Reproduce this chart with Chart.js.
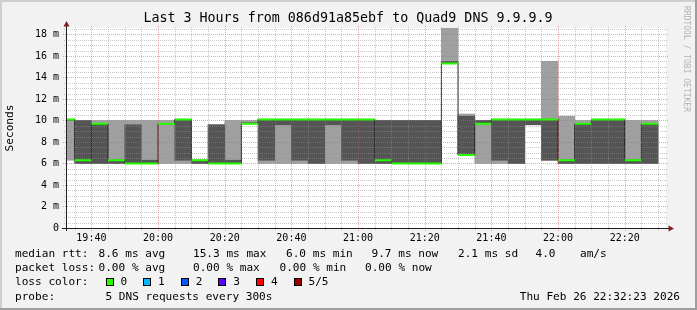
<!DOCTYPE html>
<html>
<head>
<meta charset="utf-8">
<script src="https://cdn.jsdelivr.net/npm/chart.js@4.4.1/dist/chart.umd.min.js"></script>
<style>
  html, body { margin: 0; padding: 0; background: #f2f2f2; }
  canvas { display: block; }
</style>
</head>
<body>
<canvas id="smoke" width="697" height="310"></canvas>
<script>
// 5 minute rrd steps, labelled by the end of each step
const stepEnds = ['19:35','19:40','19:45','19:50','19:55','20:00','20:05','20:10','20:15','20:20','20:25','20:30',
                  '20:35','20:40','20:45','20:50','20:55','21:00','21:05','21:10','21:15','21:20','21:25','21:30',
                  '21:35','21:40','21:45','21:50','21:55','22:00','22:05','22:10','22:15','22:20','22:25','22:30'];
// sorted pings per step (ms): outer pair, inner pair, median
const pingMin = [6.3,6.0,6.0,6.0,6.0,6.0,6.0,6.0,6.0,6.0,6.0,9.7,6.0,6.0,6.0,6.0,6.0,6.0,6.0,6.0,6.0,6.0,6.0,15.3,6.8,6.0,6.0,6.0,9.6,6.3,6.0,6.0,6.0,6.0,6.0,6.0];
const pingLo  = [10.0,6.0,6.0,6.0,6.0,6.0,9.7,6.3,6.0,6.0,6.0,9.7,6.3,9.6,6.3,6.0,9.6,6.3,6.0,6.0,6.0,6.0,6.0,15.3,6.8,9.7,6.3,6.0,9.6,6.3,6.0,6.0,6.0,6.0,6.0,6.0];
const median  = [10.1,6.3,9.7,6.3,6.0,6.0,9.7,10.1,6.3,6.0,6.0,9.7,10.1,10.1,10.1,10.1,10.1,10.1,10.1,6.3,6.0,6.0,6.0,15.3,6.8,9.7,10.1,10.1,10.1,10.1,6.3,9.7,10.1,10.1,6.3,9.7];
const pingHi  = [10.1,10.0,9.7,6.3,9.6,6.3,9.7,10.1,6.3,9.6,6.3,9.8,10.1,10.1,10.1,10.1,10.1,10.1,10.1,10.0,10.0,10.0,10.0,15.5,10.4,10.0,10.1,10.1,10.1,10.1,6.3,9.7,10.1,10.1,6.3,9.7];
const pingMax = [10.1,10.0,10.0,10.0,10.0,10.0,10.0,10.1,6.3,9.6,10.0,10.0,10.1,10.1,10.1,10.1,10.1,10.1,10.1,10.0,10.0,10.0,10.0,19.0,10.6,10.0,10.1,10.1,10.1,15.5,10.4,10.0,10.1,10.1,10.0,10.0];

const xTickLabels = ['19:40','20:00','20:20','20:40','21:00','21:20','21:40','22:00','22:20'];
const yTickValues = [0,2,4,6,8,10,12,14,16,18];
const graphEnd = '22:32:23';
const yMax = 18.6;

const titleText = 'Last 3 Hours from 086d91a85ebf to Quad9 DNS 9.9.9.9';
const rttLegend = ['8.6 ms avg','15.3 ms max','6.0 ms min','9.7 ms now','2.1 ms sd','4.0','am/s'];
const lossLegend = ['0.00 % avg','0.00 % max','0.00 % min','0.00 % now'];
const lossLabels = ['0','1','2','3','4','5/5'];
const lossColors = ['#26ff00','#00b8ff','#0059ff','#5e00ff','#ff0000','#a00000'];
const probeText = '5 DNS requests every 300s';
const stampText = 'Thu Feb 26 22:32:23 2026';

const MONO = '"DejaVu Sans Mono", monospace';
const STEP = 5;
const toMin = s => { const p = s.split(':').map(Number); return p[0] * 60 + p[1] + (p[2] || 0) / 60; };
const fmtMin = v => { const h = Math.floor(v / 60), m = Math.round(v - h * 60); return h + ':' + String(m).padStart(2, '0'); };
const xEnd = toMin(graphEnd);
const xStart = xEnd - 180;

const lightBars = stepEnds.map((t, i) => ({x: toMin(t) - STEP / 2, y: [pingMin[i], pingMax[i]]}));
const darkBars = stepEnds.map((t, i) => ({x: toMin(t) - STEP / 2, y: [pingLo[i], pingHi[i]]}));
const medianSteps = stepEnds.map((t, i) => ({x: toMin(t) - STEP, y: median[i]}));
medianSteps.push({x: toMin(stepEnds[stepEnds.length - 1]), y: median[median.length - 1]});
const greenSegs = [];
stepEnds.forEach((t, i) => {
  const e = toMin(t);
  greenSegs.push({x: e - STEP, y: median[i]}, {x: e, y: median[i]}, {x: e, y: null});
});

// rrdtool look: background, shades, grid over the smoke, axes with arrows
const rrdFrame = {
  id: 'rrdFrame',
  beforeDraw(chart) {
    const {ctx, chartArea: a, width, height} = chart;
    ctx.save();
    ctx.fillStyle = '#f2f2f2';
    ctx.fillRect(0, 0, width, height);
    ctx.fillStyle = '#cfcfcf';
    ctx.fillRect(0, 0, width, 2);
    ctx.fillRect(0, 0, 2, height);
    ctx.fillStyle = '#9e9e9e';
    ctx.fillRect(0, height - 2, width, 2);
    ctx.fillRect(width - 2, 0, 2, height);
    ctx.fillStyle = '#ffffff';
    ctx.fillRect(a.left, a.top, a.right - a.left, a.bottom - a.top);
    ctx.restore();
  },
  afterDatasetsDraw(chart) {
    const {ctx, chartArea: a, scales: {x, y}} = chart;
    const minorCol = 'rgba(143,143,143,0.5)';
    const majorCol = 'rgba(222,79,79,0.5)';
    ctx.save();
    ctx.lineWidth = 1;
    ctx.setLineDash([1, 1]);
    const hLine = (v, ext, col) => {
      const py = Math.round(y.getPixelForValue(v)) + 0.5;
      ctx.strokeStyle = col;
      ctx.beginPath(); ctx.moveTo(a.left - ext, py); ctx.lineTo(a.right + ext, py); ctx.stroke();
    };
    const vLine = (v, ext, col) => {
      const px = Math.round(x.getPixelForValue(v)) + 0.5;
      ctx.strokeStyle = col;
      ctx.beginPath(); ctx.moveTo(px, a.bottom + ext); ctx.lineTo(px, a.top - ext); ctx.stroke();
    };
    for (let k = 1; k * 0.5 <= yMax; k++) {
      if (k % 4 !== 0) hLine(k * 0.5, 2, minorCol);
    }
    for (let k = 1; k * 2 <= yMax; k++) hLine(k * 2, 3, majorCol);
    for (let v = Math.ceil(xStart / STEP) * STEP; v <= xEnd; v += STEP) {
      if (v % 20 !== 0) vLine(v, 2, minorCol);
    }
    for (let v = Math.ceil(xStart / 20) * 20; v <= xEnd; v += 20) vLine(v, 3, majorCol);

    ctx.setLineDash([]);
    ctx.strokeStyle = '#1f1f1f';
    ctx.beginPath();
    ctx.moveTo(a.left - 4, a.bottom + 0.5); ctx.lineTo(a.right + 3, a.bottom + 0.5);
    ctx.moveTo(a.left + 0.5, a.bottom + 3); ctx.lineTo(a.left + 0.5, a.top - 2);
    ctx.stroke();
    ctx.fillStyle = '#801f1f';
    ctx.beginPath();
    ctx.moveTo(a.left + 0.5, a.top - 7); ctx.lineTo(a.left - 2.5, a.top - 1.5); ctx.lineTo(a.left + 3.5, a.top - 1.5);
    ctx.closePath(); ctx.fill();
    ctx.beginPath();
    ctx.moveTo(a.right + 8, a.bottom + 0.5); ctx.lineTo(a.right + 2.5, a.bottom - 2.5); ctx.lineTo(a.right + 2.5, a.bottom + 3.5);
    ctx.closePath(); ctx.fill();
    ctx.restore();
  },
  afterDraw(chart) {
    const {ctx, chartArea: a} = chart;
    ctx.save();
    ctx.fillStyle = '#000';
    ctx.textBaseline = 'middle';
    ctx.textAlign = 'center';
    ctx.font = '13.33px ' + MONO;
    ctx.fillText(titleText, 348, 19);

    ctx.font = '11.1px ' + MONO;
    ctx.save();
    ctx.translate(10, (a.top + a.bottom) / 2);
    ctx.rotate(-Math.PI / 2);
    ctx.fillText('Seconds', 0, 0);
    ctx.restore();

    ctx.save();
    ctx.translate(686.5, 59);
    ctx.rotate(Math.PI / 2);
    ctx.fillStyle = 'rgba(0,0,0,0.28)';
    ctx.font = '8px ' + MONO;
    ctx.fillText('RRDTOOL / TOBI OETIKER', 0, 0);
    ctx.restore();

    // legend
    ctx.textAlign = 'left';
    ctx.font = '11.1px ' + MONO;
    const rows = [254, 268.5, 282.5, 297];
    ctx.fillText('median rtt:', 15, rows[0]);
    [98.5, 193, 286, 371.5, 458, 535.5, 580].forEach((px, i) => ctx.fillText(rttLegend[i], px, rows[0]));
    ctx.fillText('packet loss:', 15, rows[1]);
    [98.5, 193, 279.5, 365].forEach((px, i) => ctx.fillText(lossLegend[i], px, rows[1]));
    ctx.fillText('loss color:', 15, rows[2]);
    lossLabels.forEach((lab, i) => {
      const bx = 105.5 + i * 37.6;
      ctx.fillStyle = lossColors[i];
      ctx.fillRect(Math.round(bx), 278, 8, 8);
      ctx.strokeStyle = '#000';
      ctx.lineWidth = 1;
      ctx.strokeRect(Math.round(bx) + 0.5, 278.5, 7, 7);
      ctx.fillStyle = '#000';
      ctx.fillText(lab, bx + 15, rows[2]);
    });
    ctx.fillText('probe:', 15, rows[3]);
    ctx.fillText(probeText, 105.5, rows[3]);
    ctx.textAlign = 'right';
    ctx.fillText(stampText, 680, rows[3]);
    ctx.restore();
  }
};

new Chart(document.getElementById('smoke'), {
  type: 'bar',
  data: {
    datasets: [
      {data: lightBars, backgroundColor: '#a0a0a0', borderWidth: 0, grouped: false,
       barPercentage: 1, categoryPercentage: 1, order: 4},
      {data: darkBars, backgroundColor: '#555555', borderWidth: 0, grouped: false,
       barPercentage: 1, categoryPercentage: 1, order: 3},
      {type: 'line', data: medianSteps, borderColor: '#202020', borderWidth: 1, stepped: true,
       pointRadius: 0, fill: false, order: 2},
      {type: 'line', data: greenSegs, borderColor: '#26ff00', borderWidth: 2, borderCapStyle: 'butt',
       pointRadius: 0, fill: false, spanGaps: false, order: 1}
    ]
  },
  options: {
    responsive: false,
    animation: false,
    devicePixelRatio: 1,
    events: [],
    layout: {padding: {left: 0, right: 31, top: 28, bottom: 62}},
    plugins: {legend: {display: false}, tooltip: {enabled: false}, title: {display: false}},
    scales: {
      x: {
        type: 'linear', min: xStart, max: xEnd, offset: false,
        grid: {display: false, drawTicks: false}, border: {display: false},
        afterBuildTicks: ax => { ax.ticks = xTickLabels.map(s => ({value: toMin(s)})); },
        afterFit: ax => { ax.height = 20; },
        ticks: {font: {family: MONO, size: 10}, color: '#000', padding: 4, maxRotation: 0, autoSkip: false,
                callback: v => fmtMin(v)}
      },
      y: {
        min: 0, max: yMax,
        grid: {display: false, drawTicks: false}, border: {display: false},
        afterBuildTicks: ax => { ax.ticks = yTickValues.map(v => ({value: v})); },
        afterFit: ax => { ax.width = 66; },
        ticks: {font: {family: MONO, size: 10}, color: '#000', padding: 7,
                callback: v => v === 0 ? '0' : v + ' m'}
      }
    }
  },
  plugins: [rrdFrame]
});
</script>
</body>
</html>
